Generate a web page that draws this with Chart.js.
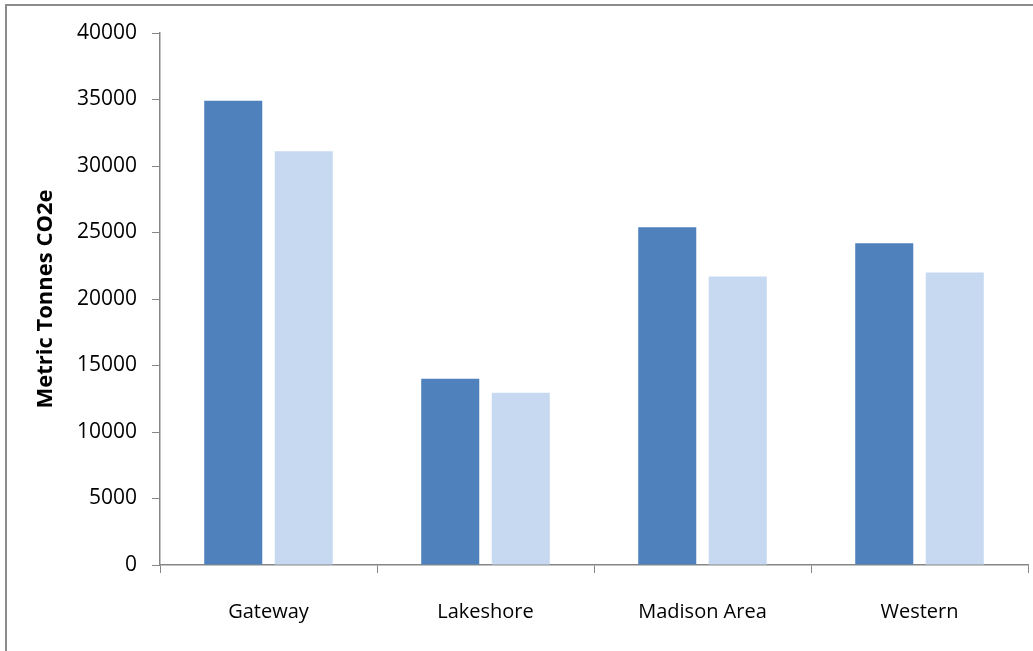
<!DOCTYPE html>
<html>
<head>
<meta charset="utf-8">
<title>Metric Tonnes CO2e by Region</title>
<script src="https://cdn.jsdelivr.net/npm/chart.js@4/dist/chart.umd.min.js"></script>
<style>
  html, body { margin: 0; padding: 0; background: #ffffff; overflow: hidden; }
  #wrap { width: 1033px; height: 651px; position: relative; }
</style>
</head>
<body>
<div id="wrap"><canvas id="chart" width="1033" height="651"></canvas></div>
<script>
// Regions on the category axis
const categories = ['Gateway', 'Lakeshore', 'Madison Area', 'Western'];

// Emissions per region, two series (metric tonnes CO2e)
const seriesA = [34900, 14000, 25400, 24200];
const seriesB = [31100, 12950, 21700, 22000];

// Value axis range
const yMin = 0;
const yMax = 40000;
const yStep = 5000;

const axisGray = '#868686';

// Thin grey frame around the chart area of the page
const framePlugin = {
  id: 'frame',
  beforeDraw(chart) {
    const ctx = chart.ctx;
    ctx.save();
    ctx.strokeStyle = '#8c8c8c';
    ctx.lineWidth = 2;
    ctx.strokeRect(6, 5, chart.width + 20, chart.height + 20);
    ctx.restore();
  }
};

new Chart(document.getElementById('chart'), {
  type: 'bar',
  data: {
    labels: categories,
    datasets: [
      {
        label: 'Series 1',
        data: seriesA,
        backgroundColor: '#4F81BD',
        borderWidth: 0,
        categoryPercentage: 0.65,
        barPercentage: 0.823
      },
      {
        label: 'Series 2',
        data: seriesB,
        backgroundColor: '#C6D9F1',
        borderWidth: 0,
        categoryPercentage: 0.65,
        barPercentage: 0.823
      }
    ]
  },
  options: {
    responsive: false,
    animation: false,
    devicePixelRatio: 1,
    layout: { padding: { top: 33, left: 33, right: 5, bottom: 0 } },
    plugins: {
      legend: { display: false },
      tooltip: { enabled: false }
    },
    scales: {
      x: {
        grid: {
          display: true,
          drawOnChartArea: false,
          drawTicks: true,
          tickLength: 8,
          color: axisGray,
          offset: true
        },
        border: { display: true, color: axisGray, width: 1.5 },
        ticks: {
          color: '#000000',
          padding: 27,
          maxRotation: 0,
          font: { family: '"Open Sans", sans-serif', size: 20 }
        },
        afterFit(scale) { scale.height = 86; }
      },
      y: {
        min: yMin,
        max: yMax,
        grid: {
          display: true,
          drawOnChartArea: false,
          drawTicks: true,
          tickLength: 8,
          color: axisGray
        },
        border: { display: true, color: axisGray, width: 1.5 },
        ticks: {
          stepSize: yStep,
          color: '#000000',
          padding: 15,
          font: { family: '"Open Sans", sans-serif', size: 21 },
          callback: (value) => String(value)
        },
        title: {
          display: true,
          text: 'Metric Tonnes CO2e',
          color: '#000000',
          padding: 0,
          font: { family: '"Open Sans", sans-serif', size: 22, weight: 'bold', lineHeight: 1.2 }
        },
        afterFit(scale) { scale.width = 127; }
      }
    }
  },
  plugins: [framePlugin]
});
</script>
</body>
</html>
